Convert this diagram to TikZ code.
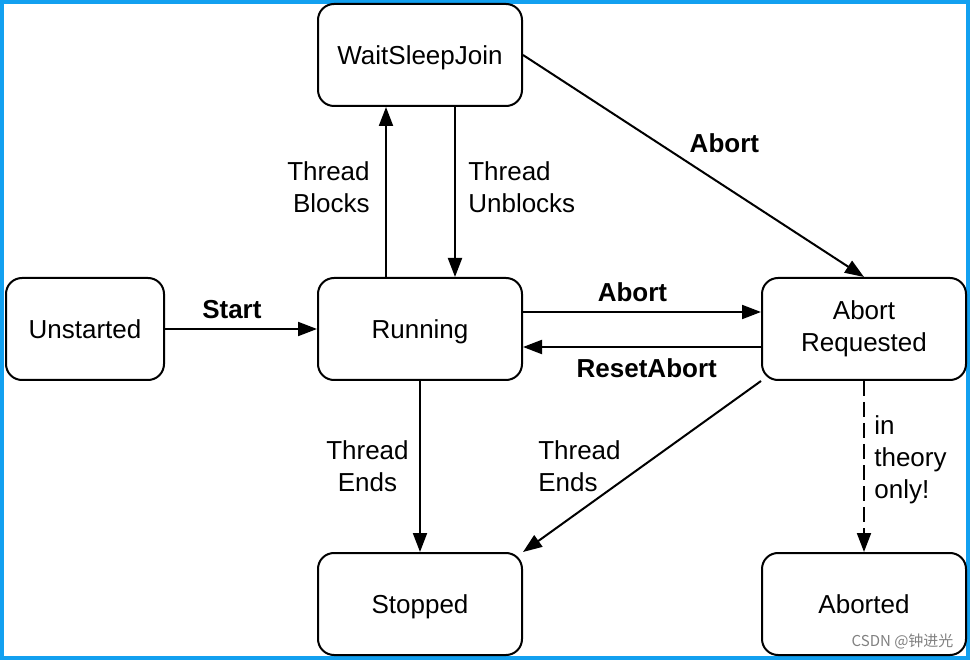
\documentclass[tikz,border=0pt]{standalone}
\usepackage{fontspec}
\setmainfont{Liberation Sans}
\newfontfamily\cjkfont{Noto Sans CJK SC}
\usetikzlibrary{arrows.meta, positioning}
\definecolor{frameblue}{RGB}{18,160,240}
\tikzset{%
	state/.style={draw, line width=2pt, rectangle, rounded corners=16pt,%
		minimum width=204pt, minimum height=102pt, align=center, inner sep=0pt,%
		text height=19pt, text depth=0pt},
	trans/.style={-{Triangle[length=19pt, width=14pt]}, line width=2pt},
	maybe/.style={trans, dash pattern=on 15pt off 6pt},
	act/.style={font=\fontsize{26}{32}\selectfont\bfseries},
	frame/.style={draw=frameblue, line width=4pt}
}
\begin{document}
\begin{tikzpicture}[font=\fontsize{26}{32}\selectfont, node distance=170pt]
	\useasboundingbox (0,0) rectangle (970pt,-660pt);
	\draw [frame] (2pt,-2pt) rectangle (968pt,-658pt);
	\node[state] (run) at (420pt,-329pt) {Running};
	\node[state] (wait) [above=of run] {WaitSleepJoin};
	\node[state, minimum width=158pt, node distance=152pt] (unst) [left=of run] {Unstarted};
	\node[state, node distance=238pt, text height={}, text depth={}] (abreq) [right=of run] {Abort\\Requested};
	\node[state, node distance=171pt] (stop) [below=of run] {Stopped};
	\node[state, node distance=171pt] (abtd) [below=of abreq] {Aborted};
	\draw [trans] (unst) to node[pos=0.44, above=6pt, act]{Start} (run);
	\draw [trans] ([xshift=-34pt]run.north) to node[pos=0.53, left=12pt, align=right]{Thread\\Blocks} ([xshift=-34pt]wait.south);
	\draw [trans] ([xshift=35pt]wait.south) to node[pos=0.47, right=9pt, align=left]{Thread\\Unblocks} ([xshift=35pt]run.north);
	\draw [trans] (wait.east) to node[pos=0.47, above right=3pt, act]{Abort} (abreq.north);
	\draw [trans] ([yshift=17pt]run.east) to node[pos=0.46, above=6pt, act]{Abort} ([yshift=17pt]abreq.west);
	\draw [trans] ([yshift=-18pt]abreq.west) to node[pos=0.48, below=7pt, act]{ResetAbort} ([yshift=-18pt]run.east);
	\draw [trans] (run) to node[left=7pt, align=center]{Thread\\Ends} (stop);
	\draw [trans] (abreq.south west) to node[left=17pt, align=left]{Thread\\Ends} (stop.north east);
	\draw [maybe] (abreq) to node[pos=0.46, right=6pt, align=left]{in\\theory\\only!} (abtd);
	\node[anchor=east, text=gray, font=\cjkfont\fontsize{15}{18}\selectfont] (mark) at (957pt,-641pt) {CSDN @钟进光};
\end{tikzpicture}
\end{document}
